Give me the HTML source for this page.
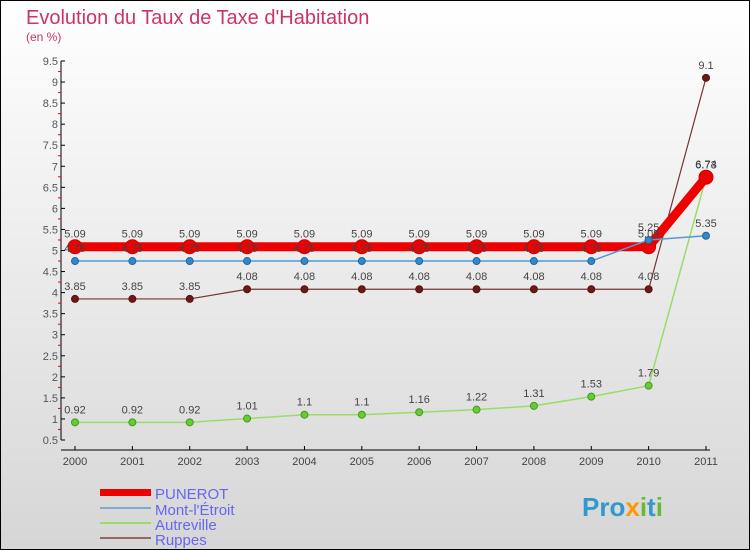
<!DOCTYPE html>
<html><head><meta charset="utf-8"><style>
body{margin:0}
#c{width:750px;height:550px;position:relative;overflow:hidden;font-family:"Liberation Sans",sans-serif}
</style></head><body>
<div id="c">
<svg id="s" width="750" height="550" xmlns="http://www.w3.org/2000/svg">
<defs><linearGradient id="bg" x1="0" y1="0" x2="0" y2="1"><stop offset="0" stop-color="#ffffff"/><stop offset="1" stop-color="#d6d6d6"/></linearGradient></defs>
<rect x="0.5" y="0.5" width="749" height="549" fill="url(#bg)" stroke="#000"/>
<text x="26" y="24" font-size="20" fill="#cc3366">Evolution du Taux de Taxe d'Habitation</text>
<text x="26" y="41" font-size="12" fill="#cc3366">(en %)</text>
<g id="axes"></g><g id="series"></g><g id="labels"></g>
<g>
<rect x="100" y="489" width="51" height="7" fill="#ee0000"/>
<line x1="100" y1="508" x2="151" y2="508" stroke="#7aaed0" stroke-width="2"/>
<line x1="100" y1="523" x2="151" y2="523" stroke="#99dd66" stroke-width="2"/>
<line x1="100" y1="538" x2="151" y2="538" stroke="#996666" stroke-width="2"/>
<text x="155" y="499" font-size="15" fill="#6666ee">PUNEROT</text>
<text x="155" y="515" font-size="15" fill="#6666ee">Mont-l'Étroit</text>
<text x="155" y="530" font-size="15" fill="#6666ee">Autreville</text>
<text x="155" y="545" font-size="15" fill="#6666ee">Ruppes</text>
</g>
<text x="582" y="516" font-size="26" font-weight="bold" fill="#3399cc">Pro<tspan fill="#ff9900">x</tspan><tspan fill="#66bb33">i</tspan>t<tspan fill="#66bb33">i</tspan></text>
</svg>
</div>
<script>
const years=["2000","2001","2002","2003","2004","2005","2006","2007","2008","2009","2010","2011"];
const punerot=[5.09,5.09,5.09,5.09,5.09,5.09,5.09,5.09,5.09,5.09,5.09,6.74];
const mont=[4.75,4.75,4.75,4.75,4.75,4.75,4.75,4.75,4.75,4.75,5.25,5.35];
const autreville=[0.92,0.92,0.92,1.01,1.1,1.1,1.16,1.22,1.31,1.53,1.79,6.73];
const ruppes=[3.85,3.85,3.85,4.08,4.08,4.08,4.08,4.08,4.08,4.08,4.08,9.1];
const yTicks=["0.5","1","1.5","2","2.5","3","3.5","4","4.5","5","5.5","6","6.5","7","7.5","8","8.5","9","9.5"];
const NS="http://www.w3.org/2000/svg";
const yMin=0.5,yMax=9.5,yTop=61,yBot=440;
function y(v){return yBot-(v-yMin)/(yMax-yMin)*(yBot-yTop);}
function x(i){return 75+i*(706-75)/(years.length-1);}
function mk(t,a,p){const e=document.createElementNS(NS,t);for(const k in a)e.setAttribute(k,a[k]);p.appendChild(e);return e;}
const ax=document.getElementById('axes'),se=document.getElementById('series'),lb=document.getElementById('labels');
let l=mk('line',{x1:61,y1:yTop,x2:61,y2:yBot,stroke:'#000'},ax);


l=mk('line',{x1:61,y1:450,x2:710,y2:450,stroke:'#000'},ax);


yTicks.forEach((t,i)=>{const v=parseFloat(t),yy=y(v);
 mk('line',{x1:61,y1:yy,x2:65,y2:yy,stroke:'#000'},ax);
 if(i<yTicks.length-1)mk('line',{x1:58,y1:y(v+0.25),x2:61,y2:y(v+0.25),stroke:'#e00'},ax);
 const tx=mk('text',{x:58,y:yy+4,'font-size':11,fill:'#555','text-anchor':'end'},ax);tx.textContent=t;
 
 });
years.forEach((t,i)=>{mk('line',{x1:x(i),y1:446,x2:x(i),y2:450,stroke:'#000'},ax);
 const tx=mk('text',{x:x(i),y:465,'font-size':11,fill:'#444','text-anchor':'middle'},ax);tx.textContent=t;
 
 });
function series(d,name,col,w,r,mc,ms){
 const g=mk('g',{},se);
 
 
 mk('polyline',{points:d.map((v,i)=>x(i)+','+y(v)).join(' '),fill:'none',stroke:col,'stroke-width':w,'stroke-linejoin':'round'},g);
 d.forEach((v,i)=>{const c=mk('circle',{cx:x(i),cy:y(v),r:r,fill:mc,stroke:ms,'stroke-width':1},g);
  
  
  const t=mk('text',{x:x(i),y:y(v)-9,'font-size':11,fill:'#444','text-anchor':'middle'},lb);t.textContent=String(v);
  
  });
}
series(ruppes,'ruppes','#7a3333',1.2,3.5,'#6b1a1a','#5a1010');
series(autreville,'autreville','#99dd66',1.5,3.5,'#66cc33','#449922');
series(punerot,'punerot','#ee0000',9,7,'#ee0000','#cc0000');
series(mont,'mont','#5599cc',1.5,3.5,'#3388cc','#226699');
</script>
</body></html>
